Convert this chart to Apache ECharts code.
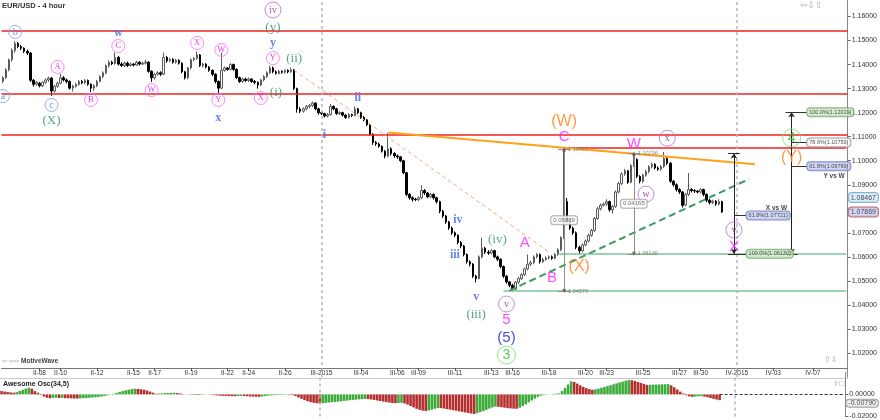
<!DOCTYPE html>
<html><head><meta charset="utf-8">
<script src="https://cdn.jsdelivr.net/npm/echarts/dist/echarts.min.js"></script>
<style>html,body{margin:0;padding:0;background:#fff}#c{width:880px;height:420px}</style>
</head><body><div id="c"></div>
<script>
// ---------- time axis ----------
const tradingDays = ['II-05','II-06','II-08','II-09','II-10','II-11','II-12','II-13','II-15','II-16','II-17','II-18','II-19','II-20','II-22','II-23','II-24','II-25','II-26','II-27','III-2015','III-02','III-03','III-04','III-05','III-06','III-08','III-09','III-10','III-11','III-12','III-13','III-15','III-16','III-17','III-18','III-19','III-20','III-22','III-23','III-24','III-25','III-26','III-27','III-29','III-30','III-31','IV-2015','IV-02','IV-03','IV-05','IV-06','IV-07','IV-08'];
const sundayDays = ['II-08','II-15','II-22','III-2015','III-08','III-15','III-22','III-29','IV-05'];
const shownDates = ['II-08','II-10','II-12','II-15','II-17','II-19','II-22','II-24','II-26','III-2015','III-04','III-06','III-09','III-11','III-13','III-16','III-18','III-20','III-23','III-25','III-27','III-30','IV-2015','IV-03','IV-07'];
const monthStarts = ['III-2015','IV-2015'];

// ---------- EUR/USD 4h candles [open, close, low, high] ----------
const candles = [
[1.1330,1.1345,1.1322,1.1352],[1.1345,1.1378,1.1340,1.1385],[1.1378,1.1420,1.1372,1.1425],[1.1420,1.1460,1.1412,1.1468],[1.1458,1.1488,1.1450,1.1498],
[1.1488,1.1475,1.1468,1.1494],[1.1475,1.1468,1.1460,1.1482],[1.1468,1.1455,1.1448,1.1472],[1.1455,1.1448,1.1440,1.1462],[1.1448,1.1335,1.1328,1.1452],
[1.1335,1.1318,1.1308,1.1340],[1.1318,1.1326,1.1312,1.1332],[1.1322,1.1312,1.1305,1.1328],[1.1312,1.1326,1.1306,1.1330],[1.1326,1.1336,1.1320,1.1342],
[1.1336,1.1344,1.1328,1.1350],[1.1344,1.1290,1.1270,1.1348],[1.1290,1.1310,1.1284,1.1316],[1.1310,1.1322,1.1304,1.1328],[1.1322,1.1345,1.1318,1.1362],
[1.1345,1.1336,1.1330,1.1352],[1.1336,1.1330,1.1322,1.1342],[1.1330,1.1302,1.1296,1.1334],[1.1302,1.1310,1.1288,1.1316],[1.1310,1.1318,1.1304,1.1324],
[1.1318,1.1330,1.1312,1.1336],[1.1330,1.1324,1.1318,1.1336],[1.1324,1.1334,1.1318,1.1340],[1.1334,1.1318,1.1312,1.1338],[1.1318,1.1302,1.1286,1.1322],
[1.1302,1.1312,1.1290,1.1318],[1.1312,1.1330,1.1306,1.1336],[1.1330,1.1350,1.1326,1.1356],[1.1350,1.1366,1.1344,1.1372],[1.1366,1.1395,1.1360,1.1400],
[1.1395,1.1410,1.1388,1.1418],[1.1410,1.1404,1.1398,1.1416],[1.1404,1.1430,1.1400,1.1450],[1.1430,1.1402,1.1396,1.1436],[1.1402,1.1396,1.1390,1.1410],
[1.1396,1.1406,1.1390,1.1412],[1.1406,1.1396,1.1390,1.1412],[1.1396,1.1402,1.1392,1.1408],[1.1402,1.1398,1.1392,1.1406],[1.1398,1.1410,1.1394,1.1416],
[1.1410,1.1402,1.1396,1.1414],[1.1402,1.1406,1.1398,1.1412],[1.1406,1.1410,1.1400,1.1420],[1.1410,1.1372,1.1366,1.1414],[1.1372,1.1345,1.1328,1.1376],
[1.1345,1.1360,1.1338,1.1366],[1.1360,1.1366,1.1354,1.1372],[1.1366,1.1360,1.1352,1.1372],[1.1360,1.1430,1.1356,1.1450],[1.1430,1.1416,1.1408,1.1436],
[1.1416,1.1422,1.1410,1.1428],[1.1422,1.1410,1.1404,1.1426],[1.1410,1.1418,1.1404,1.1424],[1.1418,1.1406,1.1400,1.1422],[1.1406,1.1370,1.1364,1.1410],
[1.1370,1.1345,1.1338,1.1374],[1.1345,1.1386,1.1340,1.1390],[1.1386,1.1420,1.1380,1.1426],[1.1420,1.1426,1.1414,1.1432],[1.1426,1.1440,1.1420,1.1455],
[1.1440,1.1396,1.1390,1.1444],[1.1396,1.1402,1.1388,1.1408],[1.1402,1.1390,1.1384,1.1406],[1.1390,1.1376,1.1370,1.1394],[1.1376,1.1360,1.1352,1.1380],
[1.1360,1.1330,1.1322,1.1364],[1.1330,1.1302,1.1280,1.1334],[1.1302,1.1376,1.1298,1.1450],[1.1376,1.1386,1.1370,1.1392],[1.1386,1.1380,1.1374,1.1390],
[1.1380,1.1400,1.1376,1.1406],[1.1400,1.1380,1.1374,1.1404],[1.1380,1.1346,1.1340,1.1384],[1.1346,1.1330,1.1324,1.1350],[1.1330,1.1340,1.1324,1.1346],
[1.1340,1.1334,1.1328,1.1346],[1.1334,1.1340,1.1328,1.1346],[1.1340,1.1330,1.1324,1.1344],[1.1330,1.1326,1.1318,1.1336],[1.1326,1.1315,1.1300,1.1330],
[1.1315,1.1336,1.1310,1.1340],[1.1336,1.1350,1.1330,1.1356],[1.1350,1.1366,1.1344,1.1372],[1.1366,1.1386,1.1360,1.1396],[1.1386,1.1370,1.1364,1.1392],
[1.1370,1.1364,1.1358,1.1376],[1.1364,1.1372,1.1358,1.1378],[1.1372,1.1368,1.1362,1.1376],[1.1368,1.1376,1.1362,1.1380],[1.1376,1.1370,1.1364,1.1380],
[1.1370,1.1378,1.1366,1.1388],[1.1378,1.1300,1.1294,1.1382],[1.1300,1.1215,1.1200,1.1304],[1.1215,1.1206,1.1198,1.1222],[1.1206,1.1216,1.1200,1.1222],
[1.1216,1.1226,1.1210,1.1232],[1.1226,1.1230,1.1218,1.1236],[1.1230,1.1240,1.1224,1.1246],[1.1240,1.1216,1.1210,1.1244],[1.1216,1.1200,1.1192,1.1220],
[1.1200,1.1196,1.1190,1.1204],[1.1196,1.1186,1.1180,1.1200],[1.1186,1.1192,1.1180,1.1198],[1.1192,1.1226,1.1188,1.1236],[1.1226,1.1216,1.1210,1.1230],
[1.1216,1.1196,1.1190,1.1220],[1.1196,1.1200,1.1190,1.1206],[1.1200,1.1190,1.1184,1.1204],[1.1190,1.1180,1.1174,1.1194],[1.1180,1.1192,1.1176,1.1198],
[1.1192,1.1188,1.1182,1.1196],[1.1188,1.1216,1.1184,1.1226],[1.1216,1.1200,1.1194,1.1220],[1.1200,1.1180,1.1174,1.1204],[1.1180,1.1170,1.1164,1.1186],
[1.1170,1.1150,1.1144,1.1174],[1.1150,1.1110,1.1104,1.1154],[1.1110,1.1076,1.1066,1.1114],[1.1076,1.1070,1.1062,1.1082],[1.1070,1.1060,1.1054,1.1076],
[1.1060,1.1040,1.1034,1.1064],[1.1040,1.1020,1.1010,1.1044],[1.1020,1.1050,1.1014,1.1115],[1.1050,1.1030,1.1022,1.1056],[1.1030,1.1020,1.1012,1.1036],
[1.1020,1.1016,1.1008,1.1026],[1.1016,1.1000,1.0994,1.1020],[1.1000,1.0950,1.0944,1.1004],[1.0950,1.0860,1.0852,1.0954],[1.0860,1.0846,1.0838,1.0866],
[1.0846,1.0840,1.0830,1.0852],[1.0840,1.0838,1.0832,1.0846],[1.0838,1.0846,1.0832,1.0852],[1.0846,1.0876,1.0840,1.0898],[1.0876,1.0866,1.0858,1.0882],
[1.0866,1.0850,1.0844,1.0870],[1.0850,1.0860,1.0844,1.0866],[1.0860,1.0846,1.0838,1.0864],[1.0846,1.0830,1.0822,1.0850],[1.0830,1.0790,1.0782,1.0834],
[1.0790,1.0770,1.0762,1.0796],[1.0770,1.0745,1.0738,1.0774],[1.0745,1.0720,1.0712,1.0750],[1.0720,1.0700,1.0692,1.0726],[1.0700,1.0690,1.0682,1.0706],
[1.0690,1.0660,1.0652,1.0694],[1.0660,1.0645,1.0636,1.0666],[1.0645,1.0610,1.0602,1.0650],[1.0610,1.0580,1.0572,1.0614],[1.0580,1.0570,1.0560,1.0586],
[1.0570,1.0520,1.0512,1.0574],[1.0520,1.0510,1.0494,1.0526],[1.0510,1.0600,1.0506,1.0606],[1.0600,1.0636,1.0594,1.0680],[1.0636,1.0620,1.0612,1.0642],
[1.0620,1.0616,1.0608,1.0628],[1.0616,1.0626,1.0610,1.0632],[1.0626,1.0600,1.0594,1.0630],[1.0600,1.0590,1.0582,1.0606],[1.0590,1.0560,1.0552,1.0594],
[1.0560,1.0520,1.0512,1.0564],[1.0520,1.0496,1.0488,1.0524],[1.0496,1.0482,1.0474,1.0500],[1.0482,1.0466,1.0458,1.0488],[1.0466,1.0495,1.0462,1.0500],
[1.0495,1.0510,1.0488,1.0516],[1.0510,1.0526,1.0504,1.0532],[1.0526,1.0550,1.0520,1.0556],[1.0550,1.0570,1.0544,1.0610],[1.0570,1.0576,1.0562,1.0584],
[1.0576,1.0600,1.0570,1.0606],[1.0600,1.0610,1.0594,1.0616],[1.0610,1.0580,1.0572,1.0614],[1.0580,1.0590,1.0574,1.0596],[1.0590,1.0596,1.0584,1.0602],
[1.0596,1.0600,1.0590,1.0606],[1.0600,1.0594,1.0588,1.0606],[1.0594,1.0610,1.0590,1.0616],[1.0610,1.0630,1.0604,1.0636],[1.0630,1.0680,1.0624,1.0686],
[1.0680,1.0830,1.0674,1.1047],[1.0830,1.0748,1.0740,1.0845],[1.0748,1.0720,1.0712,1.0754],[1.0720,1.0700,1.0692,1.0726],[1.0700,1.0640,1.0632,1.0706],
[1.0640,1.0626,1.0613,1.0646],[1.0626,1.0650,1.0620,1.0656],[1.0650,1.0666,1.0644,1.0672],[1.0666,1.0690,1.0660,1.0696],[1.0690,1.0710,1.0684,1.0716],
[1.0710,1.0760,1.0704,1.0766],[1.0760,1.0800,1.0754,1.0808],[1.0800,1.0815,1.0794,1.0822],[1.0815,1.0820,1.0810,1.0826],[1.0820,1.0830,1.0812,1.0840],
[1.0830,1.0796,1.0788,1.0834],[1.0796,1.0810,1.0780,1.0816],[1.0810,1.0870,1.0804,1.0876],[1.0870,1.0905,1.0864,1.0912],[1.0905,1.0945,1.0898,1.0952],
[1.0945,1.0958,1.0938,1.0966],[1.0958,1.0910,1.0904,1.0962],[1.0910,1.0980,1.0906,1.0986],[1.0980,1.1005,1.0974,1.1030],[1.1005,1.0935,1.0928,1.1010],
[1.0935,1.0915,1.0906,1.0940],[1.0915,1.0940,1.0908,1.0946],[1.0940,1.0955,1.0934,1.0962],[1.0955,1.0975,1.0948,1.0982],[1.0975,1.0985,1.0968,1.0992],
[1.0985,1.0970,1.0964,1.0990],[1.0970,1.0965,1.0958,1.0976],[1.0965,1.0976,1.0958,1.0982],[1.0976,1.1010,1.0970,1.1036],[1.1010,1.0990,1.0982,1.1016],
[1.0990,1.0915,1.0908,1.0994],[1.0915,1.0900,1.0892,1.0920],[1.0900,1.0880,1.0872,1.0906],[1.0880,1.0870,1.0862,1.0886],[1.0870,1.0815,1.0805,1.0874],
[1.0815,1.0860,1.0810,1.0866],[1.0860,1.0880,1.0854,1.0949],[1.0880,1.0876,1.0868,1.0886],[1.0876,1.0874,1.0866,1.0882],[1.0874,1.0870,1.0864,1.0878],
[1.0870,1.0880,1.0864,1.0886],[1.0880,1.0860,1.0852,1.0884],[1.0860,1.0836,1.0828,1.0864],[1.0836,1.0826,1.0818,1.0842],[1.0826,1.0832,1.0820,1.0838],
[1.0832,1.0820,1.0812,1.0836],[1.0820,1.0830,1.0814,1.0840],[1.0830,1.0787,1.0783,1.0834]
];

// ---------- Awesome Oscillator (34,5) ----------
const aoValues = [
0.0030,0.0026,0.0022,0.0018,0.0015, 0.0020,0.0030,0.0042,0.0052,0.0060, 0.0052,0.0030,0.0015,
-0.0005,-0.0020,-0.0030,-0.0035, -0.0032,-0.0030,-0.0033,-0.0031,-0.0034, -0.0035,-0.0036,-0.0037,-0.0038,
-0.0036,-0.0034,-0.0032,-0.0030,-0.0028,-0.0026,-0.0023,-0.0019,-0.0014,-0.0008,
-0.0001,0.0006,0.0014,0.0022,0.0030,0.0037,0.0043,0.0048,0.0051,
0.0050,0.0047,0.0042,0.0035,0.0026,0.0016,0.0006,
0.0008,0.0010,0.0012,0.0013,0.0014,0.0015,
0.0012,0.0008,0.0004,0.0001,-0.0002,-0.0004,-0.0005,-0.0006,
-0.0004,-0.0002,-0.0001,
-0.0003,-0.0006,-0.0009,-0.0011,-0.0013,-0.0014,-0.0015,-0.0016,-0.0017,
-0.0015,-0.0013,
-0.0015,-0.0017,-0.0019,-0.0020,-0.0021,-0.0022,
-0.0019,-0.0015,-0.0012,
-0.0009,-0.0007,-0.0006,-0.0005,-0.0004,-0.0003,-0.0004,-0.0006,
-0.0015,-0.0028,-0.0040,-0.0052,-0.0062,-0.0070,-0.0076,-0.0080,-0.0082,
-0.0080,-0.0077,-0.0074,-0.0071,-0.0068,-0.0065,-0.0062,-0.0059,-0.0056,-0.0053,-0.0050,-0.0047,-0.0045,-0.0043,-0.0041,
-0.0043,-0.0046,-0.0050,-0.0055,-0.0060,-0.0065,-0.0070,-0.0074,-0.0078,-0.0080,
-0.0078,-0.0076,
-0.0082,-0.0092,-0.0105,-0.0118,-0.0130,-0.0140,-0.0147,-0.0150,
-0.0145,-0.0138,-0.0130,-0.0122,
-0.0124,-0.0128,-0.0133,-0.0138,-0.0143,-0.0148,-0.0153,-0.0158,-0.0163,-0.0168,-0.0173,-0.0177,
-0.0170,-0.0160,-0.0150,-0.0140,-0.0128,-0.0118,-0.0110,
-0.0112,-0.0116,-0.0120,-0.0124,-0.0127,-0.0129,-0.0130,
-0.0120,-0.0105,-0.0090,-0.0072,-0.0055,-0.0038,-0.0022,
-0.0012,-0.0006,-0.0002,0.0001,0.0004,0.0006,0.0009,
0.0030,0.0060,0.0090,0.0118,
0.0112,0.0098,0.0082,0.0068,0.0057,0.0048,0.0042,
0.0046,0.0052,0.0060,0.0068,0.0075,0.0083,0.0092,0.0100,0.0108,0.0116,0.0124,0.0130,
0.0128,0.0122,0.0113,0.0104,0.0095,0.0086,
0.0087,0.0088,0.0089,0.0090,0.0091,0.0092,0.0093,
0.0082,0.0065,0.0045,0.0025,
0.0008,-0.0008,-0.0018,-0.0022,-0.0020,-0.0017,-0.0015,
-0.0020,-0.0026,-0.0033,-0.0040,-0.0046,-0.0052
];

// ---------- drawing-tool levels (price / candle index) ----------
const redLevels = [1.1540, 1.1278, 1.1107];
const redPartial = [[185, 1.1053]];
const greenLevels = [[183, 1.0613], [165, 1.0458]];
const orangeTrend = [[127, 1.1117], [248, 1.0985]];
const salmonTrend = [[96, 1.1377], [180, 1.0620]];
const greenTrend = [[167, 1.0460], [246, 1.0924]];
const measures = [[185, 1.04579, 1.10467, '0.05889'], [208, 1.06130, 1.10296, '0.04165']];
const fibTools = [
  {name:'X vs W', at:241, top:1.10296, bottom:1.06130, labelAt:245, levels:[[61.8,1.07721],[100.0,1.06130]], nameAt:[255,1.0803]},
  {name:'Y vs W', at:260, top:1.12019, bottom:1.06130, labelAt:265, levels:[[100.0,1.12019],[78.6,1.10759],[61.8,1.09769]], nameAt:[274,1.0937]}
];
const priceTags = [1.08467, 1.07869];
const aoTag = -0.00790;

// ---------- wave labels [candle index, price, text] ----------
const blueCircled = [[0,1.1269,'a'],[4,1.1536,'b'],[16,1.1232,'c']];
const greenRoman = [[16,1.1169,'(X)'],[89,1.1556,'(y)'],[96,1.1427,'(ii)'],[90,1.1282,'(i)'],[163,1.0670,'(iv)'],[156,1.0358,'(iii)']];
const pinkCircled = [[18,1.1390,'A'],[29,1.1253,'B'],[38,1.1477,'C'],[49,1.1294,'W'],[64,1.1490,'X'],[72,1.1461,'W'],[71,1.1253,'Y'],[85,1.1261,'X'],[89,1.1427,'Y']];
const blueRoman = [[38,1.1531,'w'],[71,1.1178,'x'],[89,1.1490,'y'],[106,1.1107,'i'],[117,1.1261,'ii'],[150,1.0753,'iv'],[149,1.0608,'iii'],[156,1.0433,'v']];
const purpleCircled = [[89,1.1627,'iv'],[166,1.0404,'v'],[219,1.1094,'x'],[212,1.0861,'w'],[241,1.0712,'v']];
const magentaBig = [[172,1.0658,'A'],[181,1.0512,'B'],[185,1.1098,'C'],[208,1.1070,'W'],[241,1.0641,'X'],[166,1.0340,'5']];
const orangeLabels = [[185,1.1161,'(W)'],[190,1.0558,'(X)'],[260,1.1015,'(Y)']];
const blueDegree = [[166,1.0262,'(5)']];
const greenCircled = [[166,1.0192,'3'],[260,1.1095,'4']];

// ---------- build ----------
const categories = [];
tradingDays.forEach(d => {
  const n = sundayDays.includes(d) ? 1 : 6;
  for (let k = 0; k < n; k++) categories.push(k === 0 ? d : d + ' ' + (k * 4));
});
const lastIdx = categories.length - 1;
const SANS = '"Liberation Sans", Arial, sans-serif';
const SERIF = '"Liberation Serif", "Times New Roman", serif';

function labelSeries(pts, st) {
  return {
    type:'scatter', xAxisIndex:0, yAxisIndex:0, z:10, silent:true, animation:false,
    symbol:'circle', symbolSize: st.ring || 1,
    itemStyle: st.ring ? {color:'rgba(255,255,255,0)', borderColor:st.ringColor, borderWidth:1} : {color:'rgba(0,0,0,0)'},
    label:{show:true, position:'inside', formatter:p => p.data.t, color:st.color, fontSize:st.size,
      fontFamily:st.font, fontWeight:st.weight || 'normal'},
    data: pts.map(d => ({value:[d[0], d[1]], t:d[2]}))
  };
}
function seg(a, b) { return {coords:[a, b]}; }
function linesSeries(data, style, extra) {
  return Object.assign({type:'lines', coordinateSystem:'cartesian2d', xAxisIndex:0, yAxisIndex:0,
    silent:true, z:4, animation:false, symbol:'none', lineStyle:Object.assign({opacity:1}, style), data}, extra || {});
}
const CAP = 2;
const fibBox = pct => pct === 100 ? {bg:'#cde8c4', bd:'#6f9f66'} : (pct === 61.8 ? {bg:'#c8cff3', bd:'#6874b8'} : {bg:'#ffffff', bd:'#8a8a8a'});

const series = [];
// candles
series.push({
  type:'candlestick', xAxisIndex:0, yAxisIndex:0, data:candles, barWidth:2, z:3,
  itemStyle:{color:'#ffffff', color0:'#000000', borderColor:'#5a5a5a', borderColor0:'#000000', borderWidth:1},
  markLine:{silent:true, symbol:'none', animation:false, precision:6, label:{show:false},
    data:[
      ...redLevels.map(v => ({yAxis:v, lineStyle:{color:'#ee2222', width:1.5, type:'solid'}})),
      ...monthStarts.map(m => ({xAxis:m, lineStyle:{color:'#b5b5b5', width:1.5, type:[3,3]}}))
    ]}
});
// horizontal levels starting at a candle
series.push(linesSeries(redPartial.map(r => seg([r[0], r[1]], [lastIdx, r[1]])), {color:'#ee2222', width:1.5}));
series.push(linesSeries(greenLevels.map(g => seg([g[0], g[1]], [lastIdx, g[1]])), {color:'#7cc596', width:1.5}));
// trend lines
series.push(linesSeries([seg(orangeTrend[0], orangeTrend[1])], {color:'#ffa21a', width:2}, {z:6}));
series.push(linesSeries([seg(salmonTrend[0], salmonTrend[1])], {color:'#f5a882', width:1, type:[4,3]}, {z:6}));
series.push(linesSeries([seg(greenTrend[0], greenTrend[1])], {color:'#3d9a5c', width:2, type:[7,4]}, {z:6}));
// measurement tools
const mLines = [];
measures.forEach(m => {
  mLines.push(seg([m[0], m[1]], [m[0], m[2]]));
  mLines.push(seg([m[0] - CAP, m[1]], [m[0] + CAP, m[1]]));
  mLines.push(seg([m[0] - CAP, m[2]], [m[0] + CAP, m[2]]));
});
series.push(linesSeries(mLines, {color:'#8d8d8d', width:1}, {z:7}));
// fib tools
const fVert = [], fLines = [];
fibTools.forEach(f => {
  fVert.push(seg([f.at, f.top], [f.at, f.bottom]));
  fLines.push(seg([f.at - CAP, f.top], [f.at + CAP, f.top]));
  fLines.push(seg([f.at - CAP, f.bottom], [f.at + CAP, f.bottom]));
  f.levels.forEach(l => fLines.push(seg([f.at, l[1]], [f.labelAt, l[1]])));
});
series.push(linesSeries(fVert, {color:'#222', width:1}, {z:7, symbol:['arrow','arrow'], symbolSize:5}));
series.push(linesSeries(fLines, {color:'#333', width:1}, {z:7}));

// measurement labels
series.push({type:'scatter', xAxisIndex:0, yAxisIndex:0, z:12, silent:true, symbolSize:1, itemStyle:{color:'rgba(0,0,0,0)'},
  label:{show:true, position:'inside', formatter:p => p.data.t, fontSize:6, fontFamily:SANS, color:'#444',
    backgroundColor:'#fff', borderColor:'#9a9a9a', borderWidth:1, borderRadius:2, padding:[1,2]},
  data: measures.map(m => ({value:[m[0], (m[1] + m[2]) / 2], t:m[3]}))});
const endPts = [];
measures.forEach(m => { endPts.push({value:[m[0], m[1]], t:m[1].toFixed(5), symbolRotate:180}); endPts.push({value:[m[0], m[2]], t:m[2].toFixed(5)}); });
series.push({type:'scatter', xAxisIndex:0, yAxisIndex:0, z:12, silent:true, symbol:'triangle', symbolSize:4, itemStyle:{color:'#555'},
  label:{show:true, position:'right', distance:2, formatter:p => p.data.t, fontSize:5.5, fontFamily:SANS, color:'#666'},
  data:endPts});
// fib labels
const fibLabelData = [];
fibTools.forEach(f => f.levels.forEach(l => {
  const b = fibBox(l[0]);
  fibLabelData.push({value:[f.labelAt, l[1]], t:l[0].toFixed(1) + '%(' + l[1].toFixed(5) + ')',
    label:{backgroundColor:b.bg, borderColor:b.bd}});
}));
series.push({type:'scatter', xAxisIndex:0, yAxisIndex:0, z:12, silent:true, symbolSize:1, itemStyle:{color:'rgba(0,0,0,0)'},
  label:{show:true, position:'right', distance:0, formatter:p => p.data.t, fontSize:5.5, fontFamily:SANS, color:'#222',
    borderWidth:1, borderRadius:3, padding:[1,2]},
  data:fibLabelData});
series.push(labelSeries(fibTools.map(f => [f.nameAt[0], f.nameAt[1], f.name]), {color:'#111', size:6.5, font:SANS, weight:'bold'}));
// right-axis price tags
series.push({type:'scatter', xAxisIndex:0, yAxisIndex:0, z:15, silent:true, symbolSize:1, itemStyle:{color:'rgba(0,0,0,0)'},
  label:{show:true, position:'right', distance:2, formatter:p => p.data.t, fontSize:7, fontFamily:SANS, color:'#222',
    borderWidth:1, borderRadius:3, padding:[1,2]},
  data: priceTags.map((v, k) => ({value:[lastIdx, v], t:v.toFixed(5),
    label: k === 0 ? {backgroundColor:'#d4e9f7', borderColor:'#6a9fc6'} : {backgroundColor:'#c9cdf1', borderColor:'#b04a5a'}}))});

// wave labels
series.push(labelSeries(blueCircled, {ring:13, ringColor:'#6f9cf5', color:'#4a7be0', size:10, font:SERIF}));
series.push(labelSeries(greenRoman, {color:'#2f8d57', size:13, font:SERIF}));
series.push(labelSeries(pinkCircled, {ring:13, ringColor:'#ff66ff', color:'#f000f0', size:8.5, font:SERIF}));
series.push(labelSeries(blueRoman, {color:'#3a66e6', size:12, font:SERIF, weight:'bold'}));
series.push(labelSeries(purpleCircled, {ring:16, ringColor:'#b070d0', color:'#8a2aa0', size:10, font:SERIF}));
series.push(labelSeries(magentaBig, {color:'#ff22ff', size:15, font:SANS}));
series.push(labelSeries(orangeLabels, {color:'#ff7f1a', size:16, font:SANS}));
series.push(labelSeries(blueDegree, {color:'#1a22cc', size:15, font:SANS}));
series.push(labelSeries(greenCircled, {ring:18, ringColor:'#6fe36f', color:'#2fbf2f', size:14, font:SANS}));

// Awesome oscillator
series.push({
  type:'bar', xAxisIndex:1, yAxisIndex:1, barCategoryGap:'15%', silent:true,
  data: aoValues.map((v, i) => ({value:v, itemStyle:{color: i > 0 && v > aoValues[i - 1] ? '#3dab3a' : '#b3302f'}})),
  markLine:{silent:true, symbol:'none', label:{show:false}, animation:false,
    data: monthStarts.map(m => ({xAxis:m, lineStyle:{color:'#b5b5b5', width:1.5, type:[3,3]}}))}
});
series.push(Object.assign(linesSeries([seg([aoValues.length - 1, 0], [lastIdx, 0])], {color:'#333', width:1, type:[3,2]}), {xAxisIndex:1, yAxisIndex:1}));
series.push({type:'scatter', xAxisIndex:1, yAxisIndex:1, z:15, silent:true, symbolSize:1, itemStyle:{color:'rgba(0,0,0,0)'},
  label:{show:true, position:'right', distance:2, formatter:p => p.data.t, fontSize:7, fontFamily:SANS, color:'#222',
    backgroundColor:'#eeeeee', borderColor:'#888', borderWidth:1, borderRadius:3, padding:[0,2]},
  data:[{value:[lastIdx, aoTag], t:aoTag.toFixed(5)}]});

// price axis: 1.16 sits 16.5px below the top, 24.04px per 0.01
const priceMin = 1.01, priceStep = 0.01, priceTop = 1.166864;
const yLabel = v => (Math.abs(v - 1.08) < 1e-6 || v > 1.1651) ? '' : v.toFixed(5);
const option = {
  animation:false,
  backgroundColor:'#ffffff',
  grid:[
    {left:0, width:848, top:0, height:377.1},
    {left:0, width:848, top:372.3, height:46}
  ],
  xAxis:[
    {type:'category', gridIndex:0, data:categories, boundaryGap:true, offset:-9.1,
      axisLine:{show:true, lineStyle:{color:'#777'}},
      axisTick:{show:true, alignWithLabel:true, interval:(i, v) => shownDates.includes(v), length:3, lineStyle:{color:'#555'}},
      axisLabel:{show:true, interval:0, formatter:v => shownDates.includes(v) ? v : '', fontSize:6.5, color:'#333', margin:2, fontFamily:SANS},
      splitLine:{show:false}},
    {type:'category', gridIndex:1, data:categories, boundaryGap:true, show:false}
  ],
  yAxis:[
    {type:'value', gridIndex:0, position:'right', min:priceMin, max:priceTop, interval:priceStep,
      axisLine:{show:true, lineStyle:{color:'#888'}}, axisTick:{show:true, length:3, lineStyle:{color:'#666'}},
      splitLine:{show:false}, axisLabel:{showMinLabel:false, showMaxLabel:false, formatter:yLabel, fontSize:7, color:'#333', margin:4, fontFamily:SANS}},
    {type:'value', gridIndex:1, position:'right', min:-0.02, max:0.02, interval:0.02,
      axisLine:{show:true, lineStyle:{color:'#888'}}, axisTick:{show:true, length:3, lineStyle:{color:'#666'}},
      splitLine:{show:false}, axisLabel:{showMinLabel:true, showMaxLabel:false, formatter:v => v.toFixed(5), fontSize:7, color:'#333', margin:4, fontFamily:SANS}}
  ],
  graphic:[
    {type:'text', left:2, top:2, style:{text:'EUR/USD - 4 hour', font:'bold 7.5px ' + SANS, fill:'#333'}},
    {type:'text', left:800, top:1, style:{text:'\u21E6\u21E9\u21E7', font:'9px "DejaVu Sans"', fill:'#aaa'}},
    {type:'text', left:824, top:356, style:{text:'\u21E7\u21E9', font:'8px "DejaVu Sans"', fill:'#aaa'}},
    {type:'text', left:2, top:358, style:{text:'\u21D4 \u21D4\u21D4', font:'6px "DejaVu Sans"', fill:'#aaa'}},
    {type:'text', left:21, top:358, style:{text:'MotiveWave', font:'bold 6.5px ' + SANS, fill:'#444'}},
    {type:'line', shape:{x1:0, y1:378.5, x2:848, y2:378.5}, style:{stroke:'#c8c8c8', lineWidth:1}},
    {type:'text', left:3, top:381, style:{text:'Awesome Osc(34,5)', font:'bold 7px ' + SANS, fill:'#222'}},
    {type:'text', left:833, top:381, style:{text:'\u21E7\u2610', font:'7px "DejaVu Sans"', fill:'#aaa'}}
  ],
  series
};
const chart = echarts.init(document.getElementById('c'), null, {renderer:'canvas'});
chart.setOption(option);
</script></body></html>
